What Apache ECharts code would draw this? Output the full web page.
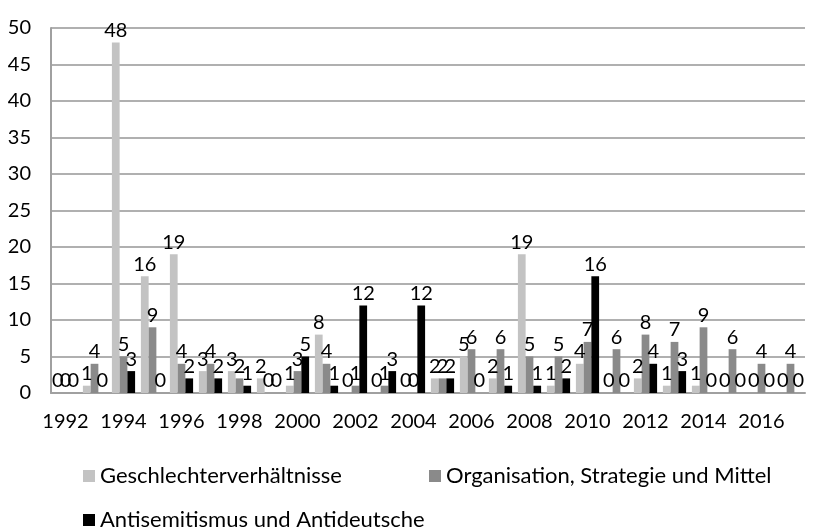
<!DOCTYPE html>
<html><head><meta charset="utf-8">
<script src="https://cdn.jsdelivr.net/npm/echarts@6/dist/echarts.min.js"></script>
<style>html,body{margin:0;padding:0;background:#fff}#c{width:814px;height:530px}</style>
</head><body><div id="c"></div>
<script>
const years = ['1992','1993','1994','1995','1996','1997','1998','1999','2000','2001','2002','2003','2004','2005','2006','2007','2008','2009','2010','2011','2012','2013','2014','2015','2016','2017'];
const seriesNames = ['Geschlechterverhältnisse','Organisation, Strategie und Mittel','Antisemitismus und Antideutsche'];
const geschlechter = [0,1,48,16,19,3,3,2,1,8,0,0,0,2,5,2,19,1,4,0,2,1,1,0,0,0];
const organisation = [0,4,5,9,4,4,2,0,3,4,1,1,0,2,6,6,5,5,7,6,8,7,9,6,4,4];
const antisemitismus = [0,0,3,0,2,2,1,0,5,1,12,3,12,2,0,1,1,2,16,0,4,3,0,0,0,0];
const colors = ['#c3c3c3','#8a8a8a','#000000'];
const FONT = 'Lato';
const FS = 20;
const chart = echarts.init(document.getElementById('c'));
const mk = (i, d) => ({
  name: seriesNames[i], type: 'bar', data: d,
  itemStyle: {color: colors[i]},
  barGap: '0%', barCategoryGap: '20%',
  label: {show: true, position: 'top', color: '#000', fontSize: FS, fontFamily: FONT, distance: 2},
  animation: false
});
const legendBase = {icon: 'rect', itemWidth: 12, itemHeight: 12, itemGap: 6, textStyle: {fontSize: 22, fontFamily: FONT, color: '#000'}};
chart.setOption({
  animation: false,
  textStyle: {fontFamily: FONT},
  grid: {left: 51, right: 9, top: 28, bottom: 137, containLabel: false},
  legend: [
    Object.assign({data: [seriesNames[0]], left: 78, top: 460}, legendBase),
    Object.assign({data: [seriesNames[1]], left: 424, top: 460}, legendBase),
    Object.assign({data: [seriesNames[2]], left: 78, top: 504}, legendBase)
  ],
  xAxis: {
    type: 'category', data: years,
    axisLine: {lineStyle: {color: '#a0a0a0', width: 2}},
    axisTick: {show: false},
    axisLabel: {interval: 1, fontSize: FS, fontFamily: FONT, color: '#000', margin: 19}
  },
  yAxis: {
    type: 'value', min: 0, max: 50, interval: 5,
    axisLine: {show: true, lineStyle: {color: '#a0a0a0', width: 2}},
    splitLine: {lineStyle: {color: '#b0b0b0', width: 2}},
    axisLabel: {fontSize: FS, fontFamily: FONT, color: '#000', margin: 20}
  },
  series: [mk(0, geschlechter), mk(1, organisation), mk(2, antisemitismus)]
});
</script></body></html>
